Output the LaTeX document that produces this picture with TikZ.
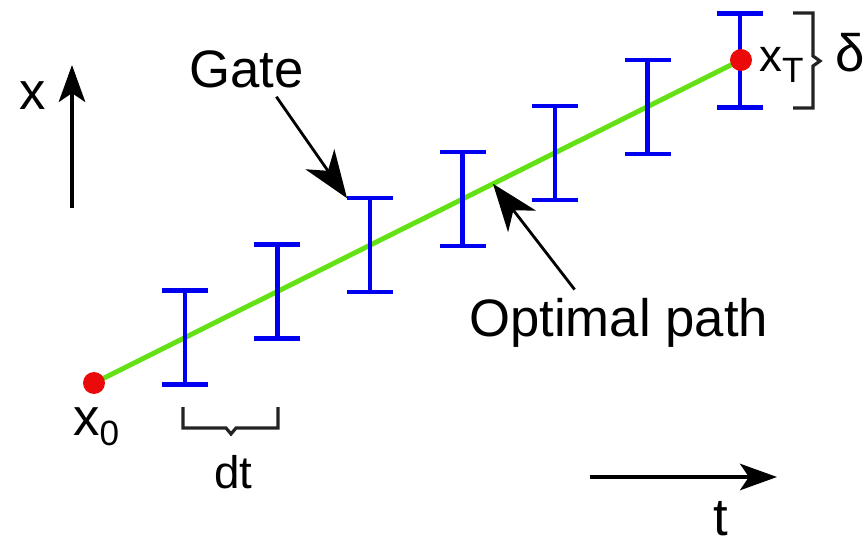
\documentclass[tikz,border=0pt]{standalone}
\usepackage{fontspec}
\setmainfont{Liberation Sans}
\usetikzlibrary{arrows.meta,calc}
\definecolor{gatecol}{RGB}{0,0,240}
\definecolor{pathcol}{RGB}{100,225,20}
\definecolor{dotcol}{RGB}{235,10,10}
\definecolor{inkcol}{RGB}{35,35,35}
\newcommand{\lowsub}[1]{\raisebox{-5.7pt}{\fontsize{20}{24}\selectfont #1}}

\begin{document}
\begin{tikzpicture}[x=0.02cm,y=-0.02cm,line width=1.4pt,>=Stealth,
  lbl/.style={inner sep=0pt,anchor=base west,font=\fontsize{30}{36}\selectfont},
  smalllbl/.style={lbl,font=\fontsize{26}{32}\selectfont},
  dot/.style={circle,fill=dotcol,inner sep=0pt,minimum size=12.5pt},
  gatebar/.style={gatecol,line width=2.4pt},
  bracket/.style={inkcol,line width=1.8pt},
  axisarrow/.style={-{Stealth[length=21pt,width=15pt,inset=5pt]},line width=2.3pt},
  callout/.style={-{Stealth[length=27pt,width=20pt,inset=8pt]},line width=1.6pt}]
\useasboundingbox (0,0) rectangle (863,544);
% ---------- optimal path ----------
\coordinate (p0) at (94,383);
\coordinate (pT) at (741,60);
\draw[pathcol,line width=2.8pt] (p0) -- (pT);
% ---------- gates ----------
\foreach \i in {1,...,7}{
  \pgfmathsetmacro\fr{0.1406+(\i-1)*0.143}
  \coordinate (g\i) at ($(p0)!\fr!(pT)$);
  \draw[gatebar] ($(g\i)+(-23,-47)$) -- ($(g\i)+(23,-47)$)
                 ($(g\i)+(0,-47)$) -- ($(g\i)+(0,47)$)
                 ($(g\i)+(-23,47)$) -- ($(g\i)+(23,47)$);
}
% ---------- end points ----------
\node[dot] (x0) at (p0) {};
\node[dot] (xT) at (pT) {};
\node[lbl] (x0lbl) at (72,435) {x\lowsub{0}};
\node[smalllbl] (xTlbl) at (758,72) {x\lowsub{T}};
% ---------- gate width ----------
\draw[bracket] (793,13) -- (813,13) -- (813,56) -- (820,61) -- (813,66) -- (813,108) -- (793,108);
\node[lbl] (deltalbl) at (834,72) {δ};
% ---------- time step ----------
\draw[bracket] (183,407) -- (183,428) -- (226,428) -- (231,434) -- (236,428) -- (278,428) -- (278,407);
\node[smalllbl] (dtlbl) at (213,488) {dt};
% ---------- callouts ----------
\node[lbl] (gatelbl) at (188,88) {Gate};
\coordinate (gtip) at ($(g3)+(-23,-47)$);
\draw[callout] ($(gatelbl.south)+(30,7)$) -- (gtip);
\node[lbl] (optlbl) at (468,337) {Optimal path};
\coordinate (otip) at ($(p0)!0.6167!(pT)$);
\draw[callout] ($(optlbl.north)+(-44,-8)$) -- (otip);
% ---------- axes ----------
\coordinate (xa0) at (72,208);
\coordinate (xa1) at (72,65);
\draw[axisarrow] (xa0) -- (xa1);
\node[lbl] (xlbl) at (18,110) {x};
\coordinate (ta0) at (590,477);
\coordinate (ta1) at (777,477);
\draw[axisarrow] (ta0) -- (ta1);
\node[lbl] (tlbl) at (712,535) {t};
\end{tikzpicture}
\end{document}
